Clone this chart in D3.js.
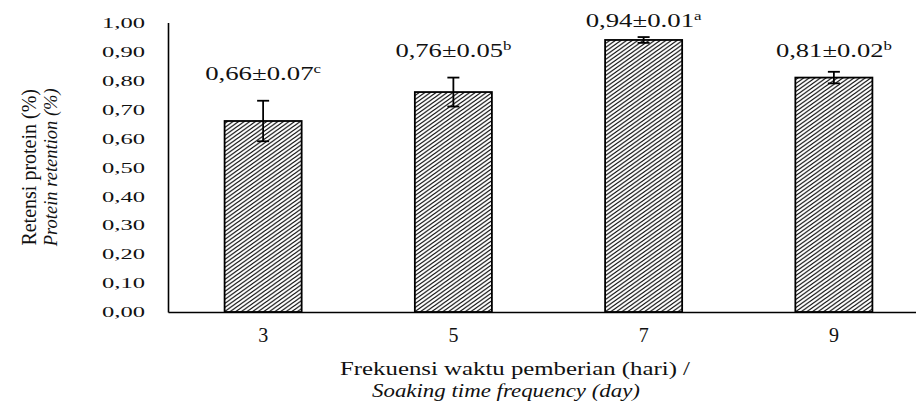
<!DOCTYPE html>
<html>
<head>
<meta charset="utf-8">
<script src="https://cdn.jsdelivr.net/npm/d3@7"></script>
<style>
  body { margin: 0; background: #fff; }
  svg { display: block; }
  text { font-family: "Liberation Serif", "Times New Roman", serif; fill: #111; }
</style>
</head>
<body>
<div id="chart"></div>
<script>
// Data
const days = ['3', '5', '7', '9'];
const retention = [0.66, 0.76, 0.94, 0.81];
const stdev = [0.07, 0.05, 0.01, 0.02];
const letters = ['c', 'b', 'a', 'b'];
const yTicks = [0, 0.1, 0.2, 0.3, 0.4, 0.5, 0.6, 0.7, 0.8, 0.9, 1.0];

const yTitle = ['Retensi protein (%)', 'Protein retention (%)'];
const xTitle = ['Frekuensi waktu pemberian  (hari) /', 'Soaking time frequency (day)'];

// Layout
let width = 916, height = 403;
let margin = {top: 22.6, left: 168, bottom: 91};
// label lift above the error bar (px), labels were nudged by hand in the original
let labelLift = [21, 21, 10, 15];

let svg = d3.select('#chart')
    .append('svg')
    .attr('width', width)
    .attr('height', height);

// Hatch pattern for the bars
let defs = svg.append('defs');
defs.append('pattern')
    .attr('id', 'hatch')
    .attr('patternUnits', 'userSpaceOnUse')
    .attr('width', 4)
    .attr('height', 4)
    .attr('patternTransform', 'scale(1.4,1)')
  .append('path')
    .attr('d', 'M-1,1 l2,-2 M0,4 l4,-4 M3,5 l2,-2')
    .attr('stroke', '#111')
    .attr('stroke-width', 0.95);

let x = d3.scaleBand()
    .domain(days)
    .range([margin.left, margin.left + 761])
    .paddingInner(0.595)
    .paddingOuter(0.2975);

let y = d3.scaleLinear()
    .domain([0, 1])
    .range([height - margin.bottom, margin.top]);

// Y axis
let yAxis = svg.append('g')
    .attr('transform', 'translate(' + margin.left + ',0)')
    .call(d3.axisLeft(y).tickValues(yTicks).tickSize(0).tickPadding(23)
        .tickFormat(d => d3.format('.2f')(d).replace('.', ',')));
yAxis.select('.domain').attr('stroke', '#000').attr('stroke-width', 1.6);
yAxis.selectAll('text')
    .attr('font-size', '15px')
    .attr('font-family', '"Liberation Serif", serif')
    .attr('fill', '#222')
    .attr('textLength', 43)
    .attr('lengthAdjust', 'spacingAndGlyphs');

// Bars
svg.selectAll('.bar')
    .data(days)
    .enter()
    .append('rect')
    .attr('class', 'bar')
    .attr('x', d => x(d))
    .attr('y', (d, i) => y(retention[i]))
    .attr('width', x.bandwidth())
    .attr('height', (d, i) => y(0) - y(retention[i]))
    .attr('fill', 'url(#hatch)')
    .attr('stroke', '#000')
    .attr('stroke-width', 1.8);

// Error bars
let err = svg.selectAll('.err')
    .data(days)
    .enter()
    .append('g')
    .attr('class', 'err')
    .attr('stroke', '#000')
    .attr('stroke-width', 1.8);

err.append('line')
    .attr('x1', d => x(d) + x.bandwidth() / 2)
    .attr('x2', d => x(d) + x.bandwidth() / 2)
    .attr('y1', (d, i) => y(retention[i] + stdev[i]))
    .attr('y2', (d, i) => y(retention[i] - stdev[i]));

[1, -1].forEach(function(sign) {
    err.append('line')
        .attr('x1', d => x(d) + x.bandwidth() / 2 - 6)
        .attr('x2', d => x(d) + x.bandwidth() / 2 + 6)
        .attr('y1', (d, i) => y(retention[i] + sign * stdev[i]))
        .attr('y2', (d, i) => y(retention[i] + sign * stdev[i]));
});

// X axis
let xAxis = svg.append('g')
    .attr('transform', 'translate(0,' + y(0) + ')')
    .call(d3.axisBottom(x).tickSize(0).tickPadding(16));
xAxis.select('.domain').attr('stroke', '#000').attr('stroke-width', 1.6);
xAxis.selectAll('text')
    .attr('font-size', '20px')
    .attr('fill', '#222')
    .attr('font-family', '"Liberation Serif", serif');

// Value labels
let labels = svg.selectAll('.value-label')
    .data(days)
    .enter()
    .append('text')
    .attr('class', 'value-label')
    .attr('x', d => x(d) + x.bandwidth() / 2)
    .attr('y', (d, i) => y(retention[i] + stdev[i]) - labelLift[i])
    .attr('text-anchor', 'middle')
    .attr('font-size', '19px')
    .attr('fill', '#222')
    .attr('textLength', 116)
    .attr('lengthAdjust', 'spacingAndGlyphs');

labels.append('tspan')
    .text((d, i) => d3.format('.2f')(retention[i]).replace('.', ',') + '±' + d3.format('.2f')(stdev[i]));
labels.append('tspan')
    .attr('font-size', '12px')
    .attr('dy', -7)
    .text((d, i) => letters[i]);

// Y axis title
let yt = svg.append('text')
    .attr('transform', 'translate(0,' + ((y(0) + y(1)) / 2) + ') rotate(-90)')
    .attr('text-anchor', 'middle');
yt.append('tspan')
    .attr('x', 0)
    .attr('y', 36)
    .attr('font-size', '20px')
    .text(yTitle[0]);
yt.append('tspan')
    .attr('x', 0)
    .attr('y', 57)
    .attr('font-size', '18.5px')
    .attr('font-style', 'italic')
    .text(yTitle[1]);

// X axis title
svg.append('text')
    .attr('x', 515)
    .attr('y', 375)
    .attr('text-anchor', 'middle')
    .attr('font-size', '18px')
    .attr('textLength', 350)
    .attr('lengthAdjust', 'spacingAndGlyphs')
    .text(xTitle[0]);
svg.append('text')
    .attr('x', 506)
    .attr('y', 397)
    .attr('text-anchor', 'middle')
    .attr('font-size', '18px')
    .attr('font-style', 'italic')
    .attr('textLength', 268)
    .attr('lengthAdjust', 'spacingAndGlyphs')
    .text(xTitle[1]);
</script>
</body>
</html>
